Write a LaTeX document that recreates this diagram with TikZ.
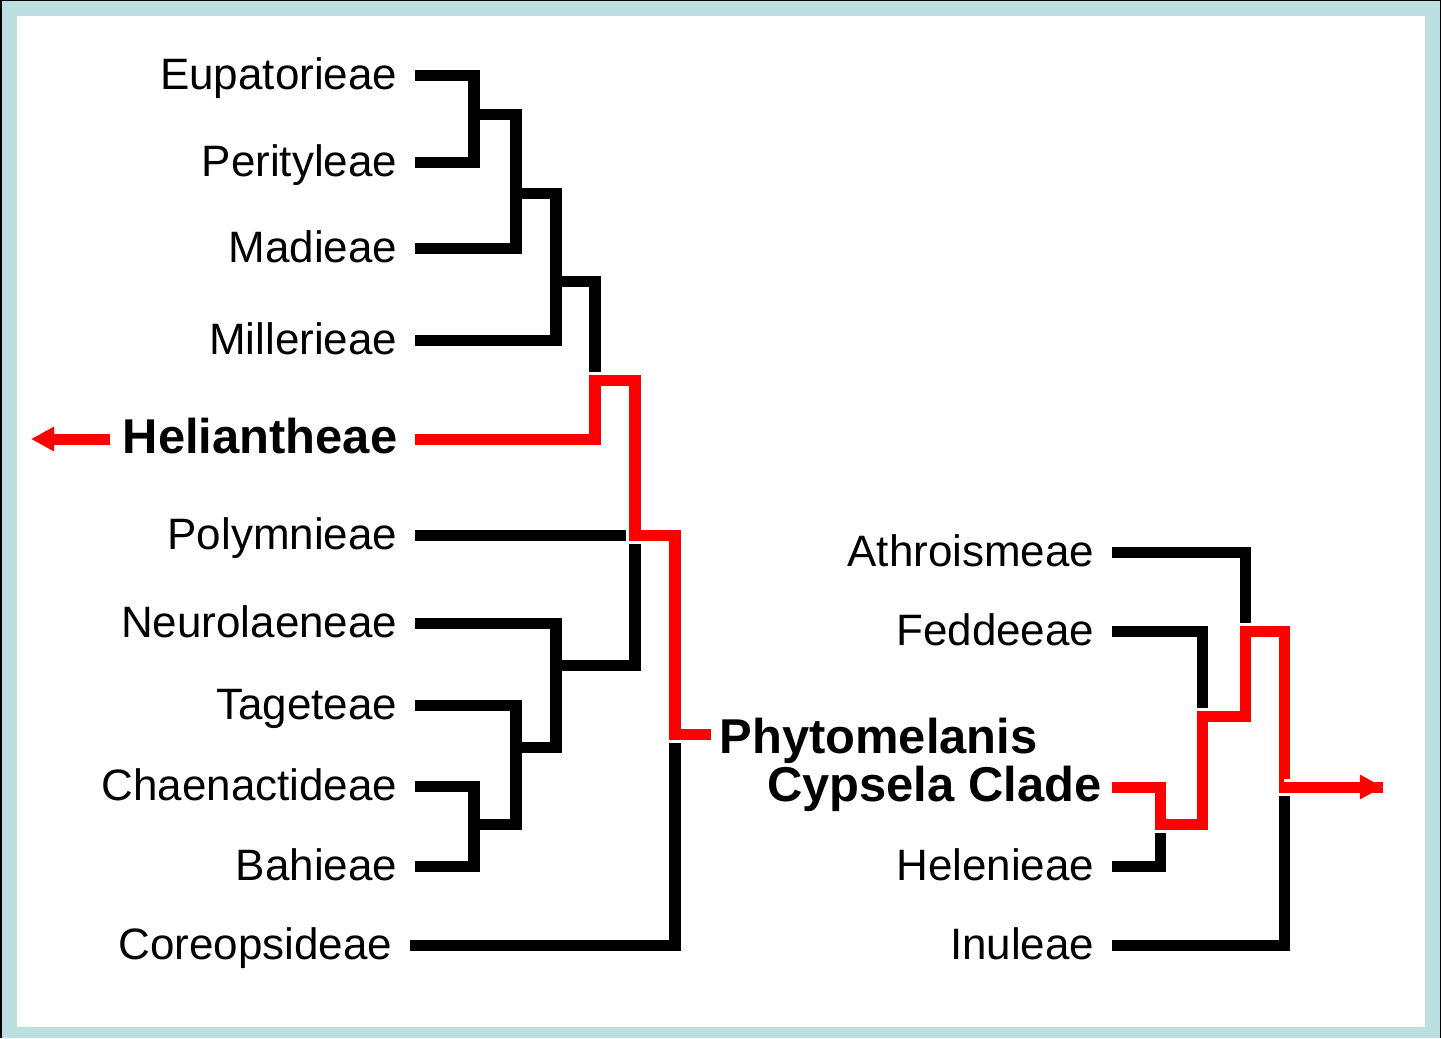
\documentclass[tikz,border=0pt]{standalone}
\usepackage{fontspec}
\setmainfont{Liberation Sans}
\usetikzlibrary{arrows.meta, positioning}
\definecolor{frameblue}{HTML}{BCE0E2}
\definecolor{hired}{HTML}{FF0000}

\begin{document}
\begin{tikzpicture}[
x=0.01cm, y=-0.01cm,
node distance=0.17cm,
leaf/.style={inner sep=0pt, text height=0.34cm, text depth=0.06cm, font=\fontsize{12.5pt}{15pt}\selectfont},
clade/.style={leaf, font=\bfseries\fontsize{13.9pt}{16pt}\selectfont},
branch/.style={draw=black, line width=0.11cm},
hilite/.style={draw=hired, line width=0.11cm, preaction={draw=white, line width=0.17cm}},
tip/.style={-{Triangle[length=0.23cm, width=0.23cm]}}
]
\useasboundingbox (0,0) rectangle (1441,1038);
\fill[black] (0,0) rectangle (1441,1038);
\fill[frameblue] (2,1) rectangle (1440,1038);
\fill[white] (17,16) rectangle (1425,1027);

\coordinate (eup) at (415,75);
\coordinate (per) at (415,162);
\coordinate (mad) at (415,248);
\coordinate (mil) at (415,340);
\coordinate (hel) at (415,439);
\coordinate (pol) at (415,535);
\coordinate (neu) at (415,623);
\coordinate (tag) at (415,705);
\coordinate (cha) at (415,786);
\coordinate (bah) at (415,866);
\coordinate (cor) at (410,945);
\coordinate (j1) at (474,114);
\coordinate (j2) at (516,193);
\coordinate (j3) at (556,281);
\coordinate (j4) at (595,380);
\coordinate (j5) at (635,535);
\coordinate (j6) at (556,665);
\coordinate (j7) at (516,747);
\coordinate (j8) at (474,824);
\coordinate (j9) at (675,734);
\coordinate (phyE) at (711,734);
\coordinate (lout) at (31,439);

\coordinate (ath) at (1112,552);
\coordinate (fed) at (1112,631);
\coordinate (cyp) at (1112,787);
\coordinate (hele) at (1112,866);
\coordinate (inu) at (1112,945);
\coordinate (jr1) at (1160,824);
\coordinate (jr2) at (1202,716);
\coordinate (jr3) at (1245,631);
\coordinate (jr4) at (1284,787);
\coordinate (rout) at (1383,787);

\node[leaf, left=of eup] (eupL) {Eupatorieae};
\node[leaf, left=of per] (perL) {Perityleae};
\node[leaf, left=of mad] (madL) {Madieae};
\node[leaf, left=of mil] (milL) {Millerieae};
\node[clade, left=of hel] (helL) {Heliantheae};
\node[leaf, left=of pol] (polL) {Polymnieae};
\node[leaf, left=of neu] (neuL) {Neurolaeneae};
\node[leaf, left=of tag] (tagL) {Tageteae};
\node[leaf, left=of cha] (chaL) {Chaenactideae};
\node[leaf, left=of bah] (bahL) {Bahieae};
\node[leaf, left=of cor] (corL) {Coreopsideae};
\node[clade, right=0.08cm of phyE, yshift=-0.05cm] (phyL) {Phytomelanis};
\node[clade, left=0.1cm of cyp] (cypL) {Cypsela Clade};
\node[leaf, left=of ath] (athL) {Athroismeae};
\node[leaf, left=of fed] (fedL) {Feddeeae};
\node[leaf, left=of hele] (heleL) {Helenieae};
\node[leaf, left=of inu] (inuL) {Inuleae};

\draw[branch] (eup) -| (j1) |- (per);
\draw[branch] (j1) -| (j2) |- (mad);
\draw[branch] (j2) -| (j3) |- (mil);
\draw[branch] (j3) -| (j4);
\draw[branch] (pol) -- (j5);
\draw[branch] (j5) |- (j6);
\draw[branch] (neu) -| (j6) |- (j7);
\draw[branch] (tag) -| (j7) |- (j8);
\draw[branch] (cha) -| (j8) |- (bah);
\draw[branch] (j9) |- (cor);
\draw[branch] (ath) -| (jr3);
\draw[branch] (fed) -| (jr2);
\draw[branch] (hele) -| (jr1);
\draw[branch] (inu) -| (jr4);

\draw[hilite] (hel) -| (j4) -| (j5) -| (j9) -- (phyE);
\draw[hilite] (cyp) -| (jr1) -| (jr2) -| (jr3) -| (jr4) -- (rout);
\draw[hilite, tip] (jr4) -- (rout);
\draw[hilite, tip] ([xshift=-0.12cm]helL.west) -- (lout);
\end{tikzpicture}
\end{document}
